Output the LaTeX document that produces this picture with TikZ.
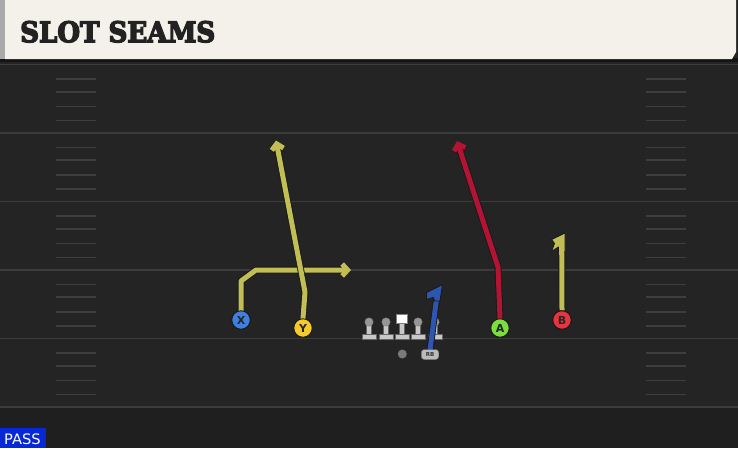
\documentclass[tikz,border=0pt]{standalone}
\usepackage{fontspec}
\usetikzlibrary{arrows.meta}
\newfontfamily\titlefont[BoldFeatures={FakeBold=5}]{DejaVu Serif}
\newfontfamily\labelfont{DejaVu Sans}
\definecolor{fieldbg}{RGB}{36,36,36}
\definecolor{fieldlow}{RGB}{31,31,31}
\definecolor{yardline}{RGB}{60,60,60}
\definecolor{hashc}{RGB}{62,62,62}
\definecolor{headerbg}{RGB}{244,241,234}
\definecolor{headerside}{RGB}{170,170,170}
\definecolor{titlec}{RGB}{34,34,34}
\definecolor{routeyel}{RGB}{192,190,84}
\definecolor{routered}{RGB}{180,20,52}
\definecolor{routeblue}{RGB}{46,86,176}
\definecolor{pX}{RGB}{62,128,226}
\definecolor{pY}{RGB}{246,202,44}
\definecolor{pA}{RGB}{122,222,62}
\definecolor{pB}{RGB}{232,52,62}
\definecolor{passblue}{RGB}{6,40,214}
\definecolor{olbody}{RGB}{200,200,200}
\definecolor{olhead}{RGB}{150,150,150}
\begin{document}
\begin{tikzpicture}[x=1pt,y=-1pt,
  route/.style={line width=5pt, line join=round, line cap=round,
    preaction={draw=black!90, line width=6.8pt}},
  arrowed/.style={-{Straight Barb[length=5.5pt,width=12pt]}},
  flagtip/.style={line width=0.9pt, draw=black!90, line join=round},
  player/.style={circle, draw=black!90, line width=0.9pt, minimum size=18.5pt,
    inner sep=0pt, font=\labelfont\bfseries\fontsize{11}{11}\selectfont, text=black!85},
  hashmark/.style={draw=hashc, line width=1.6pt},
  yard/.style={draw=yardline, line width=1.8pt},
  olbodys/.style={fill=olbody, draw=black!60, line width=0.4pt}]
\useasboundingbox (0,0) rectangle (738,448);
% background
\fill[fieldbg] (0,0) rectangle (738,448);
\fill[fieldlow] (0,407) rectangle (738,448);
% header
\fill[black!92] (0,58) rectangle (738,62);
\fill[headerside] (0,0) rectangle (5,59);
\fill[headerbg] (5,0) -- (736,0) -- (736,52) -- (732,59) -- (5,59) -- cycle;
\node[anchor=south west, inner sep=0pt, text=titlec] (title) at (20,42.7)
  {\resizebox{195pt}{21pt}{\titlefont\bfseries SLOT SEAMS}};
% yard lines
\foreach \yy in {64.5,133,201.5,270,338.5,407}
  \draw[yard] (0,\yy) -- (738,\yy);
% hash marks
\foreach \yy in {64.5,133,201.5,270,338.5}
  \foreach \dd in {14.5,27.2,41.8,55.8} {
    \draw[hashmark] (56,\yy+\dd) -- (96,\yy+\dd);
    \draw[hashmark] (646,\yy+\dd) -- (686,\yy+\dd);
  }
% offensive line
\foreach \nm/\xx in {lt/369,lg/386,rg/418,rt/435} {
  \coordinate (\nm) at (\xx,322);
  \fill[olbodys] ([xshift=-7pt,yshift=-12pt]\nm) rectangle ([xshift=7pt,yshift=-16.8pt]\nm);
  \fill[olbodys] ([xshift=-2.5pt]\nm) rectangle ([xshift=2.5pt,yshift=-12.2pt]\nm);
  \fill[olhead, draw=black!50, line width=0.4pt] (\nm) circle (4.2pt);
}
\coordinate (c) at (401.7,318.5);
\fill[olbodys] (394.7,334) rectangle (408.7,338.8);
\fill[olbodys] (399.2,322.5) rectangle (404.2,334.1);
\fill[white, draw=black!50, line width=0.4pt] (396.5,313.8) rectangle (406.9,323);
% QB
\node[circle, fill=black!52, minimum size=9pt, inner sep=0pt] (qb) at (402.3,354) {};
% RB route and RB
\coordinate (rbtop) at (437,295);
\draw[route, routeblue, line cap=butt] (430,350) -- (rbtop);
\fill[routeblue, flagtip] (442.5,284.5) -- (426.5,292.5) -- (426.5,299.5) -- (433.5,297.5) -- (434.5,301) -- (440,301) -- cycle;
\node[rounded corners=3pt, fill=black!27, draw=black!60, line width=0.4pt,
  minimum width=17.5pt, minimum height=10pt, inner sep=0pt,
  font=\labelfont\bfseries\fontsize{5.5}{5.5}\selectfont, text=black!80] (RB) at (430,354.5) {RB};
% players
\node[player, fill=pX] (X) at (241,320) {X};
\node[player, fill=pY] (Y) at (303,328) {Y};
\node[player, fill=pA] (A) at (500,328) {A};
\node[player, fill=pB] (B) at (562,320) {B};
% route waypoints
\coordinate (x1) at (241,281);
\coordinate (x2) at (256,270);
\coordinate (xend) at (351,270);
\coordinate (y1) at (305,292);
\coordinate (yend) at (276,140.5);
\coordinate (a1) at (498,267);
\coordinate (aend) at (457,141);
\coordinate (b1) at (561.7,242);
% routes
\draw[route, routeyel, arrowed] (X.north) -- (x1) -- (x2) -- (xend);
\draw[route, routeyel, arrowed] (Y.north) -- (y1) -- (yend);
\draw[route, routered, arrowed] (A.north) -- (a1) -- (aend);
\draw[route, routeyel, line cap=butt] (B.north) -- (b1);
\fill[routeyel, flagtip] (565,233) -- (551.5,239.5) -- (554.5,243.5) -- (551.5,251.5) -- (558.5,247) -- (558.5,252) -- (565,252) -- cycle;
\fill[routeyel] (559.3,245) rectangle (564.2,255);
% redraw players on top of route starts
\node[player, fill=pX] at (X) {X};
\node[player, fill=pY] at (Y) {Y};
\node[player, fill=pA] at (A) {A};
\node[player, fill=pB] at (B) {B};
% PASS label
\fill[passblue] (0,428) rectangle (45.5,448);
\node[anchor=south west, inner sep=0pt, text=white] (pass) at (4,445)
  {\resizebox{36.5pt}{10.7pt}{\labelfont PASS}};
\end{tikzpicture}
\end{document}
